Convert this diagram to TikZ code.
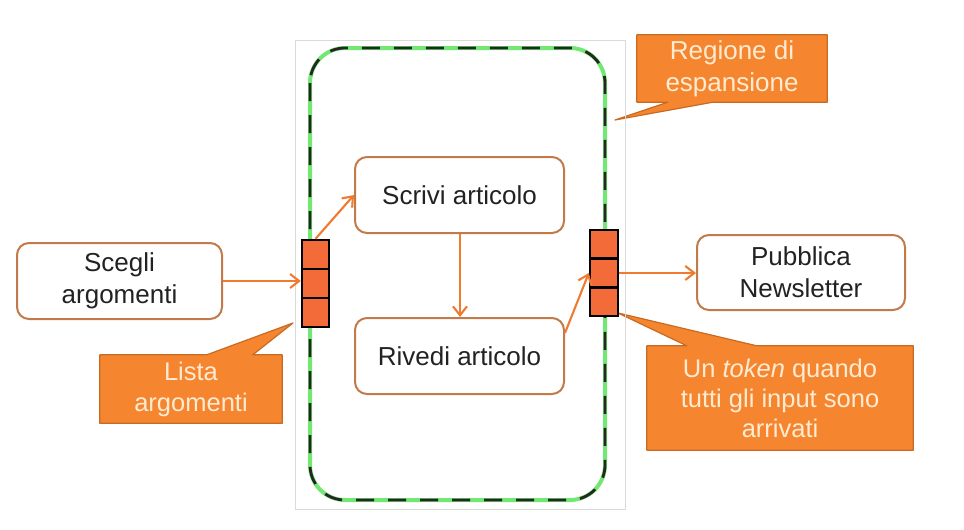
\documentclass[tikz,border=0pt]{standalone}
\usepackage{fontspec}
\setmainfont{Liberation Sans}
\usetikzlibrary{arrows.meta,backgrounds,calc}
\definecolor{boxline}{HTML}{C27A4A}
\definecolor{arrcol}{HTML}{F07A30}
\definecolor{callfill}{HTML}{F5862F}
\definecolor{callline}{HTML}{C96A22}
\definecolor{calltext}{HTML}{FFEBD2}
\definecolor{qfill}{HTML}{F26B38}
\definecolor{greenline}{HTML}{72E872}
\definecolor{framegray}{HTML}{DADADA}
\definecolor{txt}{HTML}{222222}
\tikzset{
  task/.style={draw=boxline, line width=2pt, rounded corners=12pt, fill=white,
    text=txt, align=center, font=\fontsize{26}{32}\selectfont, inner sep=0pt},
  qcell/.style={draw=black, line width=2.4pt, fill=qfill, minimum width=27pt,
    minimum height=29pt, inner sep=0pt},
  arr/.style={draw=arrcol, line width=2.1pt, -{Straight Barb[length=9pt,width=14pt]}},
  calltxt/.style={text=calltext, align=center, inner sep=0pt},
  callshape/.style={fill=callfill, draw=callline, line width=1.2pt, line join=round},
}
\begin{document}
\begin{tikzpicture}[x=1pt,y=-1pt]
\useasboundingbox (0,0) rectangle (964,530);
% frame and expansion region
\draw[framegray, line width=1pt] (295,40) rectangle (625,509);
\draw[greenline, line width=4pt, rounded corners=35pt] (310,48) rectangle (605,500);
\draw[black!85, line width=2.8pt, dash pattern=on 18pt off 14pt, rounded corners=35pt] (310,48) rectangle (605,500);
% task nodes
\node[task, minimum width=205pt, minimum height=76pt] (scegli) at (119.5,281) {Scegli\\argomenti};
\node[task, minimum width=209pt, minimum height=76pt] (scrivi) at (459.5,195) {Scrivi articolo};
\node[task, minimum width=209pt, minimum height=76pt] (rivedi) at (459.5,356) {Rivedi articolo};
\node[task, minimum width=208pt, minimum height=75pt] (pubblica) at (801,272.5) {Pubblica\\Newsletter};
% queues
\node[qcell] (lq1) at (315.5,254.5) {};
\node[qcell] (lq2) at (315.5,283.5) {};
\node[qcell] (lq3) at (315.5,312.5) {};
\node[qcell, minimum width=28pt, minimum height=28.7pt] (rq1) at (604,244.3) {};
\node[qcell, minimum width=28pt, minimum height=28.7pt] (rq2) at (604,273) {};
\node[qcell, minimum width=28pt, minimum height=28.7pt] (rq3) at (604,301.7) {};
% arrows
\draw[arr] (scegli.east) -- (scegli.east -| lq2.west);
\draw[arr] (lq1.north) -- (scrivi.west);
\draw[arr] ([xshift=0.5pt]scrivi.south) -- ([xshift=0.5pt]rivedi.north);
\draw[arr] ([yshift=23pt]rivedi.east) -- (rq2.west);
\draw[arr] (rq2.east) -- (rq2.east -| pubblica.west);
% callout texts
\node[calltxt, font=\fontsize{26}{32}\selectfont, minimum width=190pt, minimum height=67pt] (reg) at (732,68.5) {Regione di\\espansione};
\node[calltxt, font=\fontsize{25.5}{31}\selectfont, minimum width=182pt, minimum height=68pt] (lista) at (191,389) {Lista\\argomenti};
\node[calltxt, font=\fontsize{25.5}{30}\selectfont, minimum width=266pt, minimum height=104pt] (token) at (780,398) {Un \textit{token} quando\\tutti gli input sono\\arrivati};
\coordinate (regtip) at (615,120);
\coordinate (listatip) at (293,323);
\coordinate (tokentip) at (618,313);
\begin{scope}[on background layer]
\path[callshape] (reg.north west) -- (reg.north east) -- (reg.south east)
  -- ($(reg.south west)+(76,0)$) -- (regtip) -- ($(reg.south west)+(31,0)$) -- (reg.south west) -- cycle;
\path[callshape] (lista.north west) -- ($(lista.north west)+(107,0)$) -- (listatip)
  -- ($(lista.north west)+(153,0)$) -- (lista.north east) -- (lista.south east) -- (lista.south west) -- cycle;
\path[callshape] (token.north west) -- ($(token.north west)+(40,0)$) -- (tokentip)
  -- ($(token.north west)+(110,0)$) -- (token.north east) -- (token.south east) -- (token.south west) -- cycle;
\end{scope}
\end{tikzpicture}
\end{document}
